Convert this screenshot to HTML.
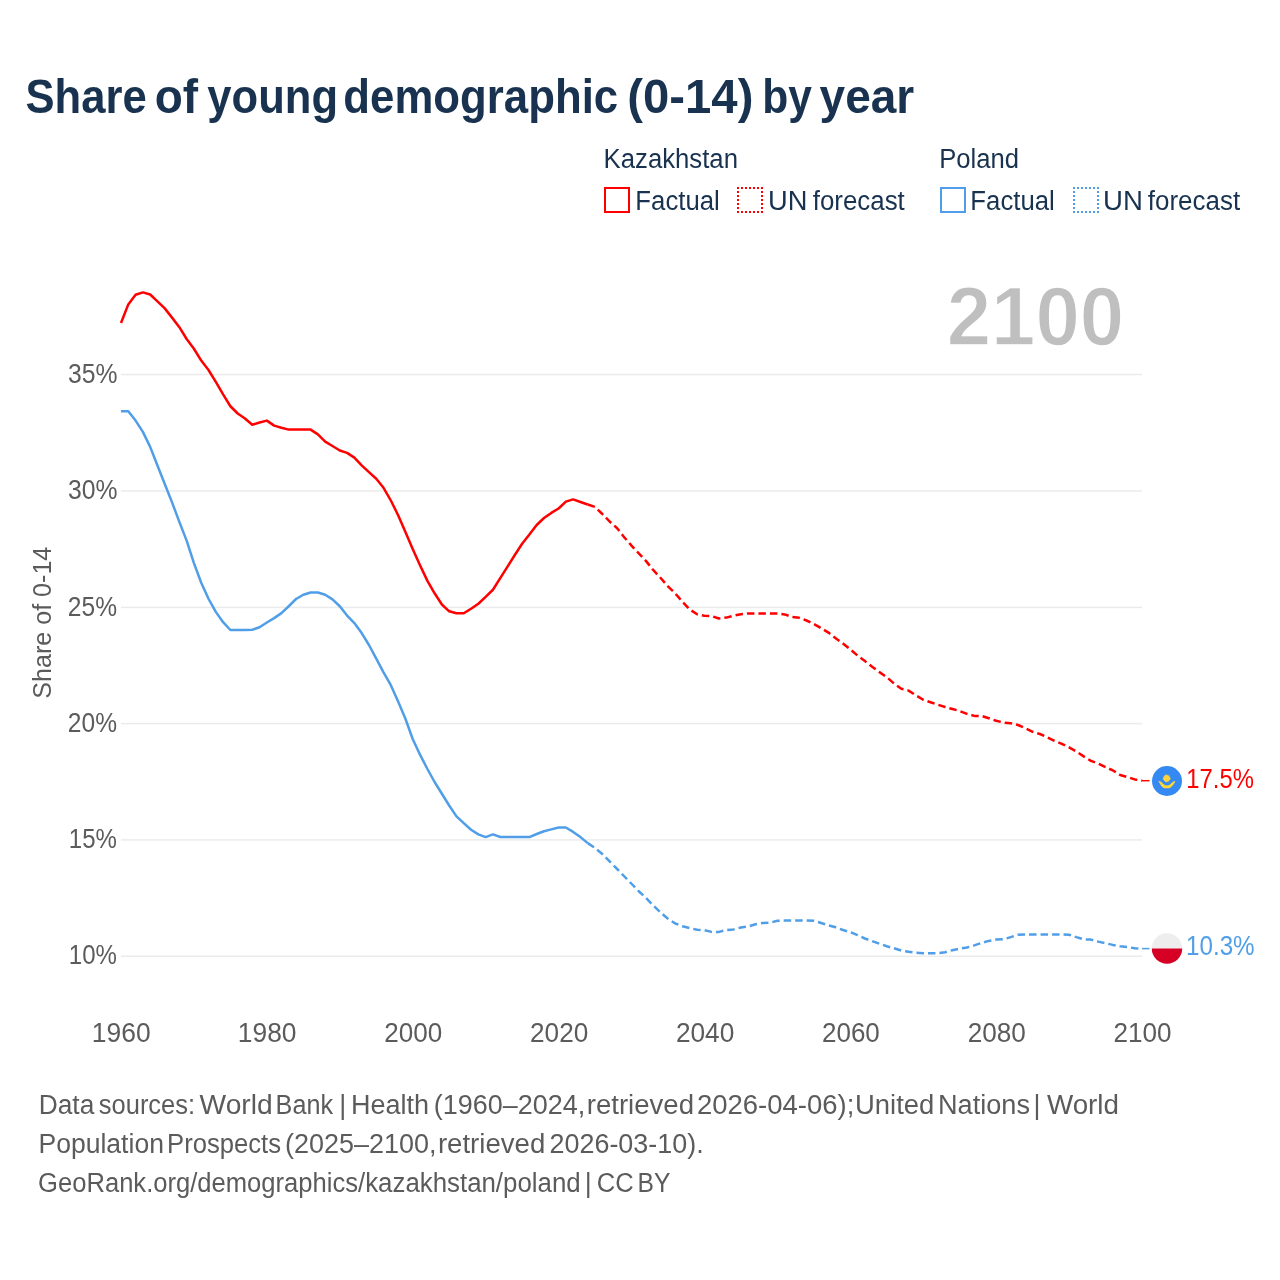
<!DOCTYPE html>
<html><head><meta charset="utf-8"><title>Share of young demographic (0-14) by year</title>
<style>
html,body{margin:0;padding:0;background:#fff;}
body{width:1280px;height:1280px;overflow:hidden;}
svg{display:block;will-change:transform;}
text{font-family:'Liberation Sans', Arial, sans-serif;white-space:pre;}
</style></head><body>
<svg width="1280" height="1280" viewBox="0 0 1280 1280">

<rect x="121" y="373.75" width="1021" height="1.5" fill="#ebebeb"/>
<rect x="121" y="490.25" width="1021" height="1.5" fill="#ebebeb"/>
<rect x="121" y="606.65" width="1021" height="1.5" fill="#ebebeb"/>
<rect x="121" y="722.85" width="1021" height="1.5" fill="#ebebeb"/>
<rect x="121" y="839.15" width="1021" height="1.5" fill="#ebebeb"/>
<rect x="121" y="955.55" width="1021" height="1.5" fill="#ebebeb"/>
<rect x="605" y="188" width="24" height="24" fill="none" stroke="#ff0000" stroke-width="2"/>
<path d="M737,187h2v2h-2zM737,191h2v2h-2zM737,195h2v2h-2zM737,199h2v2h-2zM737,203h2v2h-2zM737,207h2v2h-2zM737,211h2v2h-2zM741,187h2v2h-2zM741,211h2v2h-2zM745,187h2v2h-2zM745,211h2v2h-2zM749,187h2v2h-2zM749,211h2v2h-2zM753,187h2v2h-2zM753,211h2v2h-2zM757,187h2v2h-2zM757,211h2v2h-2zM761,187h2v2h-2zM761,191h2v2h-2zM761,195h2v2h-2zM761,199h2v2h-2zM761,203h2v2h-2zM761,207h2v2h-2zM761,211h2v2h-2z" fill="#ff0000"/>
<rect x="941" y="188" width="24" height="24" fill="none" stroke="#509ee8" stroke-width="2"/>
<path d="M1073,187h2v2h-2zM1073,191h2v2h-2zM1073,195h2v2h-2zM1073,199h2v2h-2zM1073,203h2v2h-2zM1073,207h2v2h-2zM1073,211h2v2h-2zM1077,187h2v2h-2zM1077,211h2v2h-2zM1081,187h2v2h-2zM1081,211h2v2h-2zM1085,187h2v2h-2zM1085,211h2v2h-2zM1089,187h2v2h-2zM1089,211h2v2h-2zM1093,187h2v2h-2zM1093,211h2v2h-2zM1097,187h2v2h-2zM1097,191h2v2h-2zM1097,195h2v2h-2zM1097,199h2v2h-2zM1097,203h2v2h-2zM1097,207h2v2h-2zM1097,211h2v2h-2z" fill="#509ee8"/>
<text transform="translate(50.9,698.7) rotate(-90)" x="0.00" y="0" font-size="26.5" fill="#5b5b5b" textLength="152.00" lengthAdjust="spacingAndGlyphs">Share of 0-14</text>
<path d="M121.00,323.00 L128.29,304.40 L135.59,294.70 L142.88,292.40 L150.17,294.50 L157.46,301.30 L164.76,308.40 L172.05,317.60 L179.34,327.20 L186.64,339.00 L193.93,348.75 L201.22,360.60 L208.51,370.00 L215.81,381.90 L223.10,394.40 L230.39,406.25 L237.69,413.50 L244.98,418.50 L252.27,424.75 L259.56,422.50 L266.86,420.60 L274.15,425.60 L281.44,427.75 L288.74,429.60 L296.03,429.60 L303.32,429.60 L310.61,429.60 L317.91,434.40 L325.20,441.60 L332.49,446.00 L339.79,450.50 L347.08,452.90 L354.37,457.60 L361.66,465.30 L368.96,472.10 L376.25,478.70 L383.54,487.80 L390.84,500.50 L398.13,515.20 L405.42,532.10 L412.71,549.00 L420.01,565.20 L427.30,580.60 L434.59,593.30 L441.89,604.50 L449.18,611.30 L456.47,613.30 L463.76,613.30 L471.06,608.80 L478.35,603.75 L485.64,596.90 L492.94,589.75 L500.23,578.20 L507.52,566.60 L514.81,555.00 L522.11,543.75 L529.40,534.40 L536.69,525.00 L543.99,518.00 L551.28,512.90 L558.57,508.50 L565.86,501.60 L573.16,499.40 L580.45,502.00 L587.74,504.50" fill="none" stroke="#ff0000" stroke-width="2.5" stroke-linejoin="round"/>
<path d="M587.74,504.50 L595.04,507.00 L602.33,514.00 L609.62,521.50 L616.91,528.00 L624.21,537.20 L631.50,545.60 L638.79,553.40 L646.09,561.10 L653.38,570.20 L660.67,578.00 L667.96,586.40 L675.26,593.40 L682.55,601.90 L689.84,609.60 L697.14,614.25 L704.43,615.70 L711.72,616.20 L719.01,618.50 L726.31,617.60 L733.60,615.70 L740.89,614.25 L748.19,613.40 L755.48,613.40 L762.77,613.50 L770.06,613.60 L777.36,613.60 L784.65,614.40 L791.94,616.90 L799.24,617.80 L806.53,620.50 L813.82,624.00 L821.11,628.10 L828.41,632.60 L835.70,638.30 L842.99,643.50 L850.29,649.40 L857.58,655.60 L864.87,661.10 L872.16,666.80 L879.46,672.10 L886.75,677.10 L894.04,683.50 L901.34,688.75 L908.63,690.60 L915.92,695.30 L923.21,699.70 L930.51,702.30 L937.80,704.70 L945.09,707.00 L952.39,709.00 L959.68,711.00 L966.97,713.80 L974.26,715.90 L981.56,715.90 L988.85,718.20 L996.14,720.80 L1003.44,722.50 L1010.73,723.30 L1018.02,725.00 L1025.31,728.20 L1032.61,731.80 L1039.90,734.00 L1047.19,737.25 L1054.49,740.90 L1061.78,743.80 L1069.07,747.40 L1076.36,751.50 L1083.66,756.40 L1090.95,760.90 L1098.24,763.50 L1105.54,767.10 L1112.83,770.40 L1120.12,775.00 L1127.41,777.00 L1134.71,779.40 L1142.00,780.70" fill="none" stroke="#ff0000" stroke-width="2.5" stroke-dasharray="7.5 4" stroke-linejoin="round"/>
<path d="M121.00,411.25 L128.29,411.25 L135.59,420.60 L142.88,431.90 L150.17,446.90 L157.46,465.50 L164.76,484.00 L172.05,502.40 L179.34,521.90 L186.64,540.60 L193.93,563.10 L201.22,582.80 L208.51,598.75 L215.81,611.90 L223.10,622.20 L230.39,630.00 L237.69,630.00 L244.98,630.00 L252.27,629.75 L259.56,627.25 L266.86,622.50 L274.15,618.10 L281.44,613.10 L288.74,606.25 L296.03,599.00 L303.32,594.75 L310.61,592.50 L317.91,592.50 L325.20,594.75 L332.49,599.40 L339.79,606.25 L347.08,615.60 L354.37,623.10 L361.66,633.10 L368.96,645.00 L376.25,658.60 L383.54,672.30 L390.84,685.20 L398.13,701.60 L405.42,718.75 L412.71,739.00 L420.01,754.70 L427.30,768.75 L434.59,782.00 L441.89,793.75 L449.18,805.50 L456.47,816.40 L463.76,823.10 L471.06,829.70 L478.35,834.40 L485.64,837.10 L492.94,834.40 L500.23,837.00 L507.52,837.10 L514.81,837.10 L522.11,837.10 L529.40,837.10 L536.69,834.00 L543.99,831.25 L551.28,829.40 L558.57,827.50 L565.86,827.50 L573.16,831.90 L580.45,837.10 L587.74,843.10" fill="none" stroke="#509ee8" stroke-width="2.5" stroke-linejoin="round"/>
<path d="M587.74,843.10 L595.04,848.00 L602.33,854.00 L609.62,861.40 L616.91,868.75 L624.21,876.25 L631.50,883.75 L638.79,891.25 L646.09,898.10 L653.38,905.60 L660.67,912.50 L667.96,918.75 L675.26,923.50 L682.55,926.25 L689.84,928.10 L697.14,929.75 L704.43,930.25 L711.72,931.90 L719.01,931.90 L726.31,930.00 L733.60,929.40 L740.89,927.50 L748.19,926.50 L755.48,924.25 L762.77,922.90 L770.06,922.70 L777.36,920.80 L784.65,920.60 L791.94,920.60 L799.24,920.60 L806.53,920.60 L813.82,920.80 L821.11,923.00 L828.41,925.30 L835.70,927.30 L842.99,930.00 L850.29,932.20 L857.58,935.10 L864.87,938.50 L872.16,941.10 L879.46,943.70 L886.75,946.25 L894.04,948.30 L901.34,950.50 L908.63,951.75 L915.92,952.80 L923.21,953.30 L930.51,953.30 L937.80,953.30 L945.09,952.20 L952.39,950.20 L959.68,948.60 L966.97,947.50 L974.26,945.40 L981.56,942.90 L988.85,940.90 L996.14,939.60 L1003.44,939.30 L1010.73,937.10 L1018.02,934.70 L1025.31,934.40 L1032.61,934.40 L1039.90,934.40 L1047.19,934.40 L1054.49,934.40 L1061.78,934.40 L1069.07,934.70 L1076.36,937.10 L1083.66,939.30 L1090.95,939.60 L1098.24,941.60 L1105.54,943.20 L1112.83,944.90 L1120.12,946.20 L1127.41,947.00 L1134.71,948.30 L1142.00,948.60" fill="none" stroke="#509ee8" stroke-width="2.5" stroke-dasharray="7.5 4" stroke-linejoin="round"/>
<line x1="1142" y1="780.7" x2="1149.5" y2="780.7" stroke="#ff0000" stroke-width="1.5"/>
<line x1="1142" y1="948.6" x2="1149.5" y2="948.6" stroke="#509ee8" stroke-width="1.5"/>
<g transform="translate(1167,781)">
<circle r="15" fill="#3489f2"/>
<g fill="#fdd53b">
<circle cx="-0.3" cy="-2.6" r="2.8"/>
<path d="M-0.30,-7.00 L0.27,-5.44 L1.38,-6.67 L1.31,-5.01 L2.81,-5.71 L2.11,-4.21 L3.77,-4.28 L2.54,-3.17 L4.10,-2.60 L2.54,-2.03 L3.77,-0.92 L2.11,-0.99 L2.81,0.51 L1.31,-0.19 L1.38,1.47 L0.27,0.24 L-0.30,1.80 L-0.87,0.24 L-1.98,1.47 L-1.91,-0.19 L-3.41,0.51 L-2.71,-0.99 L-4.37,-0.92 L-3.14,-2.03 L-4.70,-2.60 L-3.14,-3.17 L-4.37,-4.28 L-2.71,-4.21 L-3.41,-5.71 L-1.91,-5.01 L-1.98,-6.67 L-0.87,-5.44 Z"/>
<path d="M-8.6,0 Q-6.2,-0.2 -4.3,2.3 Q-2.3,4.6 0,4.6 Q2.3,4.6 4.3,2.3 Q6.2,-0.2 8.4,0 Q7.6,2.6 5.2,5 Q3.4,7 2.2,7.3 L-2.6,7.3 Q-4.2,6.9 -5.7,4.9 Q-7.4,2.6 -8.6,0 Z"/>
</g></g>
<g transform="translate(1167,948.5)">
<clipPath id="pc"><circle r="15.2"/></clipPath>
<g clip-path="url(#pc)"><rect x="-16" y="-16" width="32" height="16" fill="#eeeeee"/><rect x="-16" y="0" width="32" height="16" fill="#d60024"/></g>
</g>
<text x="25.52" y="112.9" font-size="49" font-weight="700" fill="#18324f" textLength="121.22" lengthAdjust="spacingAndGlyphs">Share</text>
<text x="154.72" y="112.9" font-size="49" font-weight="700" fill="#18324f" textLength="43.34" lengthAdjust="spacingAndGlyphs">of</text>
<text x="207.35" y="112.9" font-size="49" font-weight="700" fill="#18324f" textLength="130.68" lengthAdjust="spacingAndGlyphs">young</text>
<text x="343.37" y="112.9" font-size="49" font-weight="700" fill="#18324f" textLength="274.77" lengthAdjust="spacingAndGlyphs">demographic</text>
<text x="627.22" y="112.9" font-size="49" font-weight="700" fill="#18324f" textLength="126.18" lengthAdjust="spacingAndGlyphs">(0-14)</text>
<text x="762.19" y="112.9" font-size="49" font-weight="700" fill="#18324f" textLength="49.65" lengthAdjust="spacingAndGlyphs">by</text>
<text x="819.61" y="112.9" font-size="49" font-weight="700" fill="#18324f" textLength="94.65" lengthAdjust="spacingAndGlyphs">year</text>
<text x="603.62" y="168" font-size="27" fill="#18324f" textLength="134.36" lengthAdjust="spacingAndGlyphs">Kazakhstan</text>
<text x="939.13" y="168" font-size="27" fill="#18324f" textLength="79.79" lengthAdjust="spacingAndGlyphs">Poland</text>
<text x="635.37" y="210" font-size="27" fill="#18324f" textLength="84.42" lengthAdjust="spacingAndGlyphs">Factual</text>
<text x="768.00" y="210" font-size="27" fill="#18324f" textLength="39.38" lengthAdjust="spacingAndGlyphs">UN</text>
<text x="812.80" y="210" font-size="27" fill="#18324f" textLength="92.01" lengthAdjust="spacingAndGlyphs">forecast</text>
<text x="970.37" y="210" font-size="27" fill="#18324f" textLength="84.42" lengthAdjust="spacingAndGlyphs">Factual</text>
<text x="1103.05" y="210" font-size="27" fill="#18324f" textLength="39.85" lengthAdjust="spacingAndGlyphs">UN</text>
<text x="1147.80" y="210" font-size="27" fill="#18324f" textLength="92.31" lengthAdjust="spacingAndGlyphs">forecast</text>
<text x="946.64" y="345.4" font-size="83" font-weight="700" fill="#bfbfbf" stroke="#fff" stroke-width="1.4" textLength="177.52" lengthAdjust="spacingAndGlyphs">2100</text>
<text x="67.94" y="382.6" font-size="27" fill="#5b5b5b" textLength="49.53" lengthAdjust="spacingAndGlyphs">35%</text>
<text x="67.94" y="499.1" font-size="27" fill="#5b5b5b" textLength="49.53" lengthAdjust="spacingAndGlyphs">30%</text>
<text x="67.84" y="615.5" font-size="27" fill="#5b5b5b" textLength="49.15" lengthAdjust="spacingAndGlyphs">25%</text>
<text x="67.84" y="731.7" font-size="27" fill="#5b5b5b" textLength="49.15" lengthAdjust="spacingAndGlyphs">20%</text>
<text x="68.84" y="848.0" font-size="27" fill="#5b5b5b" textLength="48.07" lengthAdjust="spacingAndGlyphs">15%</text>
<text x="68.84" y="964.4" font-size="27" fill="#5b5b5b" textLength="48.07" lengthAdjust="spacingAndGlyphs">10%</text>
<text x="91.86" y="1041.9" font-size="27" fill="#5b5b5b" textLength="58.85" lengthAdjust="spacingAndGlyphs">1960</text>
<text x="237.83" y="1041.9" font-size="27" fill="#5b5b5b" textLength="58.67" lengthAdjust="spacingAndGlyphs">1980</text>
<text x="384.24" y="1041.9" font-size="27" fill="#5b5b5b" textLength="57.94" lengthAdjust="spacingAndGlyphs">2000</text>
<text x="530.07" y="1041.9" font-size="27" fill="#5b5b5b" textLength="58.20" lengthAdjust="spacingAndGlyphs">2020</text>
<text x="675.88" y="1041.9" font-size="27" fill="#5b5b5b" textLength="58.39" lengthAdjust="spacingAndGlyphs">2040</text>
<text x="821.96" y="1041.9" font-size="27" fill="#5b5b5b" textLength="57.87" lengthAdjust="spacingAndGlyphs">2060</text>
<text x="967.76" y="1041.9" font-size="27" fill="#5b5b5b" textLength="58.15" lengthAdjust="spacingAndGlyphs">2080</text>
<text x="1113.59" y="1041.9" font-size="27" fill="#5b5b5b" textLength="58.04" lengthAdjust="spacingAndGlyphs">2100</text>
<text x="1186.34" y="787.9" font-size="27" fill="#ff0000" textLength="67.61" lengthAdjust="spacingAndGlyphs">17.5%</text>
<text x="1186.01" y="955" font-size="27" fill="#509ee8" textLength="68.59" lengthAdjust="spacingAndGlyphs">10.3%</text>
<text x="38.70" y="1114" font-size="27" fill="#5b5b5b" textLength="55.60" lengthAdjust="spacingAndGlyphs">Data</text>
<text x="98.82" y="1114" font-size="27" fill="#5b5b5b" textLength="96.28" lengthAdjust="spacingAndGlyphs">sources:</text>
<text x="199.59" y="1114" font-size="27" fill="#5b5b5b" textLength="73.09" lengthAdjust="spacingAndGlyphs">World</text>
<text x="275.59" y="1114" font-size="27" fill="#5b5b5b" textLength="57.42" lengthAdjust="spacingAndGlyphs">Bank</text>
<text x="339.14" y="1114" font-size="27" fill="#5b5b5b" textLength="6.98" lengthAdjust="spacingAndGlyphs">|</text>
<text x="350.92" y="1114" font-size="27" fill="#5b5b5b" textLength="78.07" lengthAdjust="spacingAndGlyphs">Health</text>
<text x="433.72" y="1114" font-size="27" fill="#5b5b5b" textLength="151.41" lengthAdjust="spacingAndGlyphs">(1960–2024,</text>
<text x="586.76" y="1114" font-size="27" fill="#5b5b5b" textLength="107.29" lengthAdjust="spacingAndGlyphs">retrieved</text>
<text x="697.00" y="1114" font-size="27" fill="#5b5b5b" textLength="157.33" lengthAdjust="spacingAndGlyphs">2026-04-06);</text>
<text x="854.97" y="1114" font-size="27" fill="#5b5b5b" textLength="79.29" lengthAdjust="spacingAndGlyphs">United</text>
<text x="938.04" y="1114" font-size="27" fill="#5b5b5b" textLength="91.91" lengthAdjust="spacingAndGlyphs">Nations</text>
<text x="1033.48" y="1114" font-size="27" fill="#5b5b5b" textLength="6.99" lengthAdjust="spacingAndGlyphs">|</text>
<text x="1046.95" y="1114" font-size="27" fill="#5b5b5b" textLength="72.08" lengthAdjust="spacingAndGlyphs">World</text>
<text x="38.43" y="1152.9" font-size="27" fill="#5b5b5b" textLength="125.53" lengthAdjust="spacingAndGlyphs">Population</text>
<text x="167.07" y="1152.9" font-size="27" fill="#5b5b5b" textLength="113.99" lengthAdjust="spacingAndGlyphs">Prospects</text>
<text x="285.06" y="1152.9" font-size="27" fill="#5b5b5b" textLength="151.47" lengthAdjust="spacingAndGlyphs">(2025–2100,</text>
<text x="437.93" y="1152.9" font-size="27" fill="#5b5b5b" textLength="107.33" lengthAdjust="spacingAndGlyphs">retrieved</text>
<text x="549.50" y="1152.9" font-size="27" fill="#5b5b5b" textLength="154.16" lengthAdjust="spacingAndGlyphs">2026-03-10).</text>
<text x="38.09" y="1191.6" font-size="27" fill="#5b5b5b" textLength="327.08" lengthAdjust="spacingAndGlyphs">GeoRank.org/demographics/</text>
<text x="365.19" y="1191.6" font-size="27" fill="#5b5b5b" textLength="215.45" lengthAdjust="spacingAndGlyphs">kazakhstan/poland</text>
<text x="584.73" y="1191.6" font-size="27" fill="#5b5b5b" textLength="6.98" lengthAdjust="spacingAndGlyphs">|</text>
<text x="596.84" y="1191.6" font-size="27" fill="#5b5b5b" textLength="36.89" lengthAdjust="spacingAndGlyphs">CC</text>
<text x="637.53" y="1191.6" font-size="27" fill="#5b5b5b" textLength="32.89" lengthAdjust="spacingAndGlyphs">BY</text>
</svg></body></html>
